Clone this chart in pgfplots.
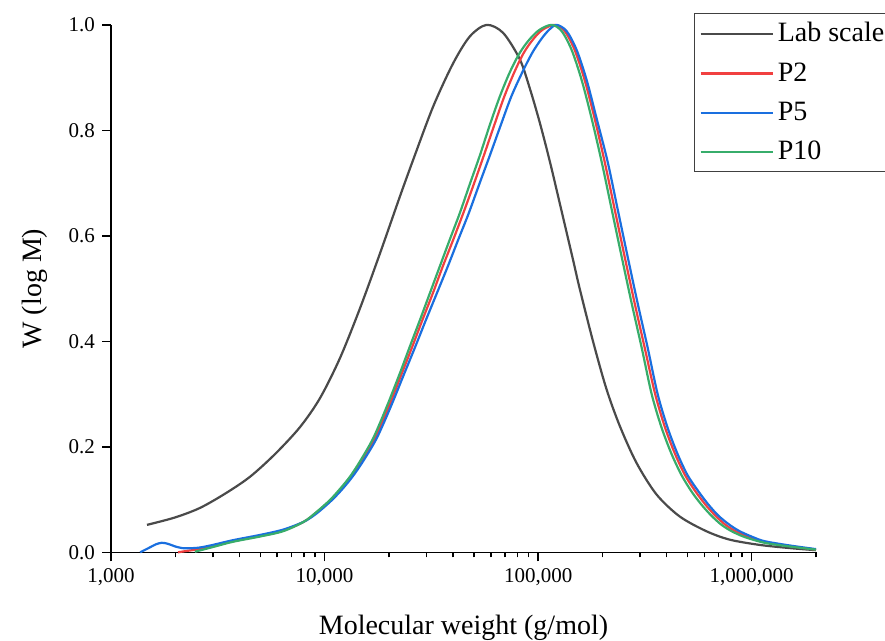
\documentclass[border=0pt]{standalone}
\usepackage{fontspec}
\setmainfont{Liberation Serif}
\usepackage{pgfplots}
\pgfplotsset{compat=1.18}
\definecolor{labgray}{HTML}{4A4A4A}
\definecolor{ored}{HTML}{F14040}
\definecolor{oblue}{HTML}{1A6FDF}
\definecolor{ogreen}{HTML}{37AD6B}
\begin{document}
\begin{tikzpicture}
\begin{axis}[
  at={(0,0)}, anchor=south west, scale only axis,
  width=352.5pt, height=263.7pt,
  xmode=log, xmin=1000, xmax=2000000, ymin=0, ymax=1,
  axis x line*=bottom, axis y line*=left,
  axis line style={line width=0.75pt, black},
  tick align=outside, major tick length=4.5pt, minor tick length=2.5pt,
  every tick/.style={black, line width=0.75pt},
  xtick={1000,10000,100000,1000000},
  xticklabels={1{,}000,10{,}000,100{,}000,1{,}000{,}000},
  minor xtick={2000,3000,4000,5000,6000,7000,8000,9000,20000,30000,40000,50000,60000,70000,80000,90000,200000,300000,400000,500000,600000,700000,800000,900000,2000000},
  ytick={0,0.2,0.4,0.6,0.8,1.0},
  yticklabels={0.0,0.2,0.4,0.6,0.8,1.0},
  tick label style={font=\fontsize{10.5}{12}\selectfont},
  xlabel={Molecular weight (g/mol)},
  ylabel={W (log M)},
  label style={font=\fontsize{14}{16}\selectfont},
  xlabel style={at={(axis description cs:0.5,-0.1437)}, anchor=center},
  ylabel style={at={(axis description cs:-0.1078,0.5)}, anchor=center},
  clip=false,
  legend style={at={(axis description cs:0.827,1.0228)}, anchor=north west,
    draw=black!75, line width=0.6pt, font=\fontsize{14}{16}\selectfont,
    inner sep=2.5pt, row sep=4.9pt, fill=white},
  legend cell align=left,
  legend image code/.code={\draw[#1, line width=1.1pt] (0pt,0pt) -- (36pt,0pt);},
  every axis plot/.append style={line width=1.1pt, smooth},
]
\addplot[labgray] coordinates {
(1474,0.052) (1993,0.066) (2606,0.084) (3416,0.111) (4469,0.143) (5854,0.186)
(7660,0.237) (9510,0.292) (11800,0.368) (14630,0.462) (18150,0.566)
(22500,0.674) (25980,0.744) (32230,0.845) (39980,0.927) (47860,0.978)
(57300,1.000) (68500,0.985) (82020,0.935) (91340,0.880) (101740,0.815)
(113300,0.742) (126200,0.662) (145600,0.555) (156500,0.500) (180700,0.400)
(208700,0.310) (240900,0.240) (288400,0.170) (357800,0.110) (459800,0.068)
(613100,0.040) (788000,0.024) (1089000,0.014) (1504000,0.008) (2000000,0.004)
};
\addlegendentry{Lab scale}
\addplot[ored] coordinates {
(2060,0.000) (2300,0.003) (2600,0.006) (3000,0.011) (3730,0.021) (5000,0.031)
(6400,0.041) (8000,0.058) (9200,0.076) (10700,0.099) (11930,0.120)
(13270,0.143) (14870,0.172) (17160,0.216) (19930,0.275) (22990,0.339)
(25750,0.390) (28690,0.440) (32120,0.491) (35770,0.542) (40060,0.593)
(44610,0.643) (49970,0.698) (55650,0.752) (62320,0.810) (69410,0.864)
(77310,0.910) (85630,0.947) (94850,0.973) (105090,0.991) (119600,1.000)
(133200,0.988) (148380,0.952) (165240,0.895) (184000,0.822) (204980,0.740)
(228300,0.650) (254290,0.560) (283170,0.472) (315380,0.388) (353120,0.300)
(393260,0.236) (438060,0.186) (487750,0.146) (546150,0.115) (608280,0.090)
(677610,0.069) (754600,0.052) (840500,0.040) (967300,0.029) (1149000,0.019)
(1500000,0.012) (2000000,0.005)
};
\addlegendentry{P2}
\addplot[oblue] coordinates {
(1370,0.000) (1500,0.008) (1620,0.015) (1730,0.018) (1850,0.016) (2000,0.011)
(2150,0.008) (2300,0.0075) (2600,0.009) (3000,0.014) (3730,0.023) (5000,0.033)
(6400,0.043) (8000,0.058) (9200,0.074) (10760,0.098) (12060,0.119)
(13490,0.143) (15110,0.172) (17530,0.216) (20360,0.275) (23620,0.339)
(26600,0.390) (29790,0.440) (33540,0.491) (37750,0.542) (42280,0.593)
(47330,0.643) (53020,0.698) (59360,0.752) (66840,0.810) (74840,0.864)
(84270,0.910) (93850,0.947) (103390,0.973) (112710,0.991) (122200,1.000)
(136100,0.988) (151620,0.952) (168840,0.895) (188020,0.822) (211700,0.740)
(235780,0.650) (262620,0.560) (292450,0.472) (325720,0.388) (362740,0.300)
(403980,0.236) (450000,0.186) (501040,0.146) (564090,0.115) (628260,0.090)
(699870,0.069) (787850,0.052) (877600,0.040) (1009900,0.029) (1149000,0.021)
(1500000,0.013) (2000000,0.006)
};
\addlegendentry{P5}
\addplot[ogreen] coordinates {
(2470,0.001) (3000,0.010) (3730,0.020) (5000,0.030) (6400,0.040) (8000,0.058)
(9200,0.077) (10590,0.099) (11800,0.120) (13130,0.143) (14630,0.172)
(16880,0.216) (19500,0.275) (22500,0.339) (25070,0.390) (27930,0.440)
(31100,0.491) (34630,0.542) (38580,0.593) (42960,0.643) (47860,0.698)
(53300,0.752) (59370,0.810) (66120,0.864) (73650,0.910) (82020,0.947)
(91340,0.973) (101740,0.991) (115800,1.000) (128960,0.988) (143660,0.952)
(159980,0.895) (178150,0.822) (198460,0.740) (221040,0.650) (246200,0.560)
(274160,0.472) (305350,0.388) (340060,0.300) (378720,0.236) (421860,0.186)
(469710,0.146) (523130,0.115) (582640,0.090) (649050,0.069) (722800,0.052)
(805100,0.040) (926500,0.029) (1149000,0.018) (1504000,0.011) (2000000,0.005)
};
\addlegendentry{P10}
\end{axis}
\pgfresetboundingbox
\path[use as bounding box] (-55.5pt,-44.35pt) rectangle (387pt,276.15pt);
\end{tikzpicture}
\end{document}
